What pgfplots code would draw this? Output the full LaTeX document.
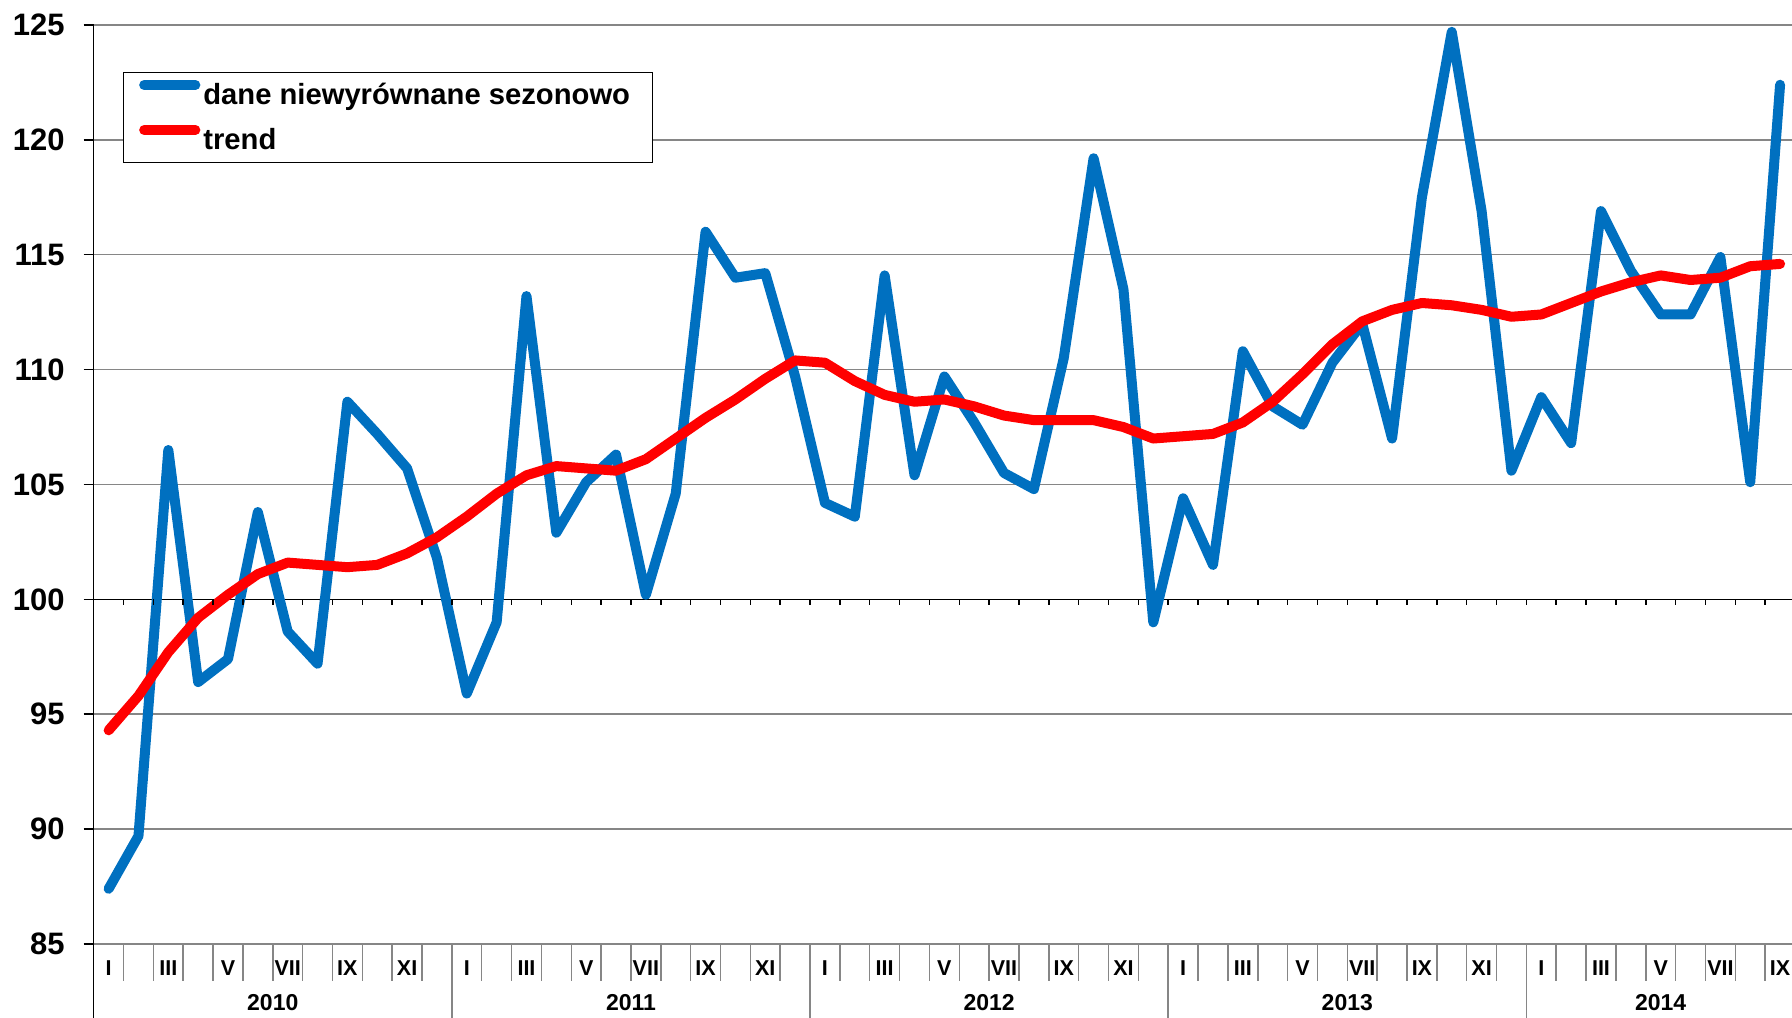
\documentclass[border=0pt]{standalone}
\usepackage{pgfplots}
\pgfplotsset{compat=1.18}
\usepackage{pgfplotstable}
\usepackage{fontspec}
\setmainfont{Liberation Sans}

\definecolor{seriesblue}{HTML}{0070C0}
\definecolor{trendred}{HTML}{FF0000}
\definecolor{gridgray}{HTML}{868686}

% month index (0 = I 2010) and value
\pgfplotstableread{
idx val
0 87.4
1 89.7
2 106.5
3 96.4
4 97.4
5 103.8
6 98.6
7 97.2
8 108.6
9 107.2
10 105.7
11 101.8
12 95.9
13 99.0
14 113.2
15 102.9
16 105.1
17 106.3
18 100.2
19 104.6
20 116.0
21 114.0
22 114.2
23 109.7
24 104.2
25 103.6
26 114.1
27 105.4
28 109.7
29 107.7
30 105.5
31 104.8
32 110.5
33 119.2
34 113.5
35 99.0
36 104.4
37 101.5
38 110.8
39 108.4
40 107.6
41 110.3
42 112.0
43 107.0
44 117.5
45 124.7
46 116.9
47 105.6
48 108.8
49 106.8
50 116.9
51 114.3
52 112.4
53 112.4
54 114.9
55 105.1
56 122.4
}\raw

\pgfplotstableread{
idx val
0 94.3
1 95.8
2 97.7
3 99.2
4 100.2
5 101.1
6 101.6
7 101.5
8 101.4
9 101.5
10 102.0
11 102.7
12 103.6
13 104.6
14 105.4
15 105.8
16 105.7
17 105.6
18 106.1
19 107.0
20 107.9
21 108.7
22 109.6
23 110.4
24 110.3
25 109.5
26 108.9
27 108.6
28 108.7
29 108.4
30 108.0
31 107.8
32 107.8
33 107.8
34 107.5
35 107.0
36 107.1
37 107.2
38 107.7
39 108.6
40 109.8
41 111.1
42 112.1
43 112.6
44 112.9
45 112.8
46 112.6
47 112.3
48 112.4
49 112.9
50 113.4
51 113.8
52 114.1
53 113.9
54 114.0
55 114.5
56 114.6
}\trend

\begin{document}
\begin{tikzpicture}
\begin{axis}[
    name=ax,
    scale only axis,
    width=850.7pt, height=459.5pt,
    xmin=-0.5, xmax=56.5,
    ymin=85, ymax=125,
    ytick={85,90,...,125},
    clip=false,
    axis lines*=left,
    x axis line style={gridgray, line width=0.75pt},
    y axis line style={black, line width=0.75pt},
    tick align=outside,
    major tick length=5pt,
    minor tick length=18.5pt,
    ytick style={black, line width=0.75pt},
    major x tick style={draw=none},
    minor x tick style={gridgray, line width=0.75pt},
    xtick={0,2,...,56},
    minor xtick={-0.5,0.5,...,56.5},
    xticklabels={I,III,V,VII,IX,XI,I,III,V,VII,IX,XI,I,III,V,VII,IX,XI,I,III,V,VII,IX,XI,I,III,V,VII,IX},
    xticklabel style={font=\fontsize{10.75}{12}\selectfont\bfseries, anchor=center, yshift=-7pt},
    yticklabel style={font=\fontsize{15.5}{18}\selectfont\bfseries, anchor=east, inner sep=0pt, xshift=-9.3pt},
    /pgf/number format/assume math mode=true,
    ymajorgrids,
    grid style={gridgray, line width=0.75pt},
    extra y ticks={100},
    extra y tick labels={},
    extra y tick style={grid style={black, line width=0.75pt}, major tick length=0pt},
    legend style={at={(0.01734,0.9489)}, anchor=north west, draw=black, line width=0.5pt,
        fill=white, inner xsep=11pt, inner ysep=0pt, row sep=0pt, column sep=1.5pt,
        font=\fontsize{14.6}{17}\selectfont\bfseries,
        nodes={inner sep=0pt, text height=15.8pt, text depth=6.7pt}},
    legend cell align=left,
    legend image code/.code={
        \path[use as bounding box] (0pt,5pt) rectangle (22.34pt,5pt);
        \draw[#1, line cap=round] (-3.26pt,5pt) -- (21.9pt,5pt);},
]
\addplot[seriesblue, line width=5pt, line join=round, line cap=round] table[x=idx, y=val] {\raw};
\addlegendentry{dane niewyrównane sezonowo}
\addplot[trendred, line width=5pt, line join=round, line cap=round] table[x=idx, y=val] {\trend};
\addlegendentry{trend}

% small ticks on the 100 line
\pgfplotsinvokeforeach{-0.5,0.5,...,56.5}{
  \draw[black, line width=0.75pt] (axis cs:#1,100) -- ++(0pt,-3pt);
}
% year separators and year labels
\draw[black, line width=0.75pt] (axis cs:-0.5,85) -- ++(0pt,-37pt);
\draw[gridgray, line width=0.75pt] (axis cs:11.5,85) -- ++(0pt,-37pt);
\draw[gridgray, line width=0.75pt] (axis cs:23.5,85) -- ++(0pt,-37pt);
\draw[gridgray, line width=0.75pt] (axis cs:35.5,85) -- ++(0pt,-37pt);
\draw[gridgray, line width=0.75pt] (axis cs:47.5,85) -- ++(0pt,-37pt);
\begin{scope}[every node/.style={font=\fontsize{11.5}{13}\selectfont\bfseries, anchor=center}]
\node at ([yshift=-29.5pt]axis cs:5.5,85) {2010};
\node at ([yshift=-29.5pt]axis cs:17.5,85) {2011};
\node at ([yshift=-29.5pt]axis cs:29.5,85) {2012};
\node at ([yshift=-29.5pt]axis cs:41.5,85) {2013};
\node at ([yshift=-29.5pt]axis cs:52,85) {2014};
\end{scope}
\end{axis}
\pgfresetboundingbox
\path ([shift={(-46.85pt,-37pt)}]ax.south west) rectangle ([shift={(-1.5pt,12.5pt)}]ax.north east);
\end{tikzpicture}
\end{document}
